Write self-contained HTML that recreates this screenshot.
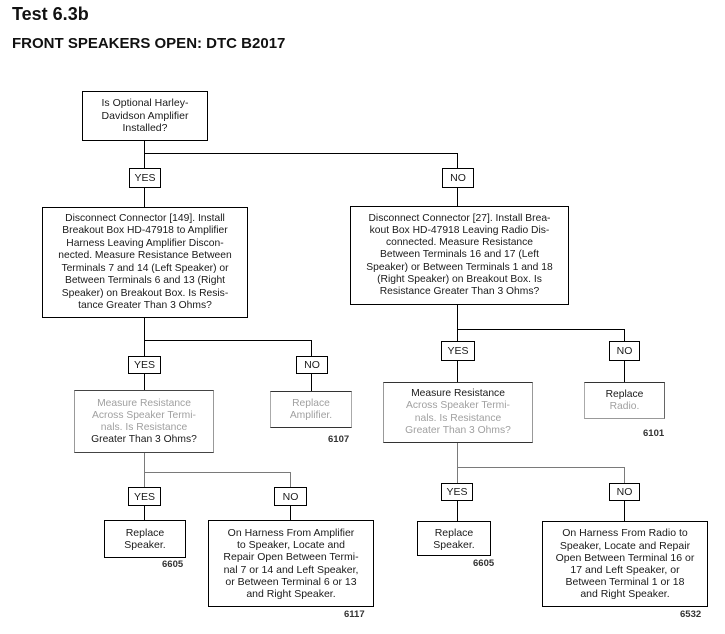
<!DOCTYPE html>
<html><head><meta charset="utf-8"><style>
html,body{margin:0;padding:0;background:#fff;}
body{width:725px;height:634px;position:relative;overflow:hidden;font-family:"Liberation Sans",Arial,sans-serif;color:#1a1a1a;}
.h{position:absolute;white-space:nowrap;font-weight:bold;color:#111;}
.l{position:absolute;background:#000;}
.g{background:#7a7a7a;}
.b{position:absolute;box-sizing:border-box;border:1px solid #000;display:flex;align-items:center;justify-content:center;text-align:center;white-space:nowrap;font-size:10.3px;line-height:12.3px;background:#fff;}
.lb{font-size:10.5px;line-height:12px;}
.n{position:absolute;font-size:9.5px;font-weight:bold;color:#333;white-space:nowrap;line-height:10px;}
.gr{color:#a0a0a0;}
</style></head><body>
<div class="h" style="left:12px;top:4.6px;font-size:18px;line-height:18px;">Test 6.3b</div>
<div class="h" style="left:12px;top:36px;font-size:15px;line-height:15px;">FRONT SPEAKERS OPEN: DTC B2017</div>

<!-- connectors -->
<div class="l" style="left:144px;top:140px;width:1px;height:67px;"></div>
<div class="l" style="left:144px;top:153px;width:314px;height:1px;"></div>
<div class="l" style="left:457px;top:153px;width:1px;height:53px;"></div>

<div class="l" style="left:144px;top:317px;width:1px;height:73px;"></div>
<div class="l" style="left:144px;top:340px;width:168px;height:1px;"></div>
<div class="l" style="left:311px;top:340px;width:1px;height:51px;"></div>

<div class="l" style="left:457px;top:304px;width:1px;height:78px;"></div>
<div class="l" style="left:457px;top:329px;width:168px;height:1px;"></div>
<div class="l" style="left:624px;top:329px;width:1px;height:53px;"></div>

<div class="l g" style="left:144px;top:452px;width:1px;height:35px;"></div>
<div class="l" style="left:144px;top:487px;width:1px;height:33px;"></div>
<div class="l g" style="left:144px;top:472px;width:147px;height:1px;"></div>
<div class="l g" style="left:290px;top:472px;width:1px;height:15px;"></div>
<div class="l" style="left:290px;top:487px;width:1px;height:33px;"></div>

<div class="l g" style="left:457px;top:442px;width:1px;height:41px;"></div>
<div class="l" style="left:457px;top:483px;width:1px;height:38px;"></div>
<div class="l g" style="left:457px;top:467px;width:168px;height:1px;"></div>
<div class="l g" style="left:624px;top:467px;width:1px;height:16px;"></div>
<div class="l" style="left:624px;top:483px;width:1px;height:38px;"></div>

<!-- boxes -->
<div class="b" style="left:82px;top:91px;width:126px;height:50px;font-size:10.5px;line-height:12.5px;">Is Optional Harley-<br>Davidson Amplifier<br>Installed?</div>
<div class="b lb" style="left:129px;top:168px;width:32px;height:20px;">YES</div>
<div class="b lb" style="left:442px;top:168px;width:32px;height:20px;">NO</div>

<div class="b" style="left:42px;top:207px;width:206px;height:111px;line-height:12.5px;">Disconnect Connector [149]. Install<br>Breakout Box HD-47918 to Amplifier<br>Harness Leaving Amplifier Discon-<br>nected. Measure Resistance Between<br>Terminals 7 and 14 (Left Speaker) or<br>Between Terminals 6 and 13 (Right<br>Speaker) on Breakout Box. Is Resis-<br>tance Greater Than 3 Ohms?</div>
<div class="b" style="left:350px;top:206px;width:219px;height:99px;line-height:12.2px;">Disconnect Connector [27]. Install Brea-<br>kout Box HD-47918 Leaving Radio Dis-<br>connected. Measure Resistance<br>Between Terminals 16 and 17 (Left<br>Speaker) or Between Terminals 1 and 18<br>(Right Speaker) on Breakout Box. Is<br>Resistance Greater Than 3 Ohms?</div>

<div class="b lb" style="left:128px;top:356px;width:33px;height:18px;">YES</div>
<div class="b lb" style="left:296px;top:356px;width:32px;height:18px;">NO</div>
<div class="b" style="left:74px;top:390px;width:140px;height:63px;line-height:12px;border-color:#444 #999 #444 #999;"><div><span class="gr">Measure Resistance<br>Across Speaker Termi-<br>nals. Is Resistance</span><br>Greater Than 3 Ohms?</div></div>
<div class="b" style="left:270px;top:391px;width:82px;height:37px;line-height:12px;border-color:#333 #aaa #333 #aaa;"><span class="gr">Replace<br>Amplifier.</span></div>
<div class="n" style="left:328px;top:435px;">6107</div>

<div class="b lb" style="left:441px;top:341px;width:34px;height:20px;">YES</div>
<div class="b lb" style="left:609px;top:341px;width:31px;height:20px;">NO</div>
<div class="b" style="left:383px;top:382px;width:150px;height:61px;line-height:12.3px;border-color:#333 #999 #333 #999;"><div>Measure Resistance<br><span class="gr">Across Speaker Termi-<br>nals. Is Resistance<br>Greater Than 3 Ohms?</span></div></div>
<div class="b" style="left:584px;top:382px;width:81px;height:37px;line-height:12px;border-color:#333 #666 #999 #aaa;"><div>Replace<br><span class="gr">Radio.</span></div></div>
<div class="n" style="left:643px;top:429px;">6101</div>

<div class="b lb" style="left:128px;top:487px;width:33px;height:19px;">YES</div>
<div class="b lb" style="left:274px;top:487px;width:33px;height:19px;">NO</div>
<div class="b" style="left:104px;top:520px;width:82px;height:38px;font-size:10.5px;line-height:12px;">Replace<br>Speaker.</div>
<div class="n" style="left:162px;top:560px;">6605</div>
<div class="b" style="left:208px;top:520px;width:166px;height:87px;font-size:10.5px;line-height:12.2px;">On Harness From Amplifier<br>to Speaker, Locate and<br>Repair Open Between Termi-<br>nal 7 or 14 and Left Speaker,<br>or Between Terminal 6 or 13<br>and Right Speaker.</div>
<div class="n" style="left:344px;top:610px;">6117</div>

<div class="b lb" style="left:441px;top:483px;width:32px;height:18px;">YES</div>
<div class="b lb" style="left:609px;top:483px;width:31px;height:18px;">NO</div>
<div class="b" style="left:417px;top:521px;width:74px;height:35px;font-size:10.5px;line-height:12px;">Replace<br>Speaker.</div>
<div class="n" style="left:473px;top:559px;">6605</div>
<div class="b" style="left:542px;top:521px;width:166px;height:86px;font-size:10.5px;line-height:12.2px;">On Harness From Radio to<br>Speaker, Locate and Repair<br>Open Between Terminal 16 or<br>17 and Left Speaker, or<br>Between Terminal 1 or 18<br>and Right Speaker.</div>
<div class="n" style="left:680px;top:610px;">6532</div>
</body></html>
